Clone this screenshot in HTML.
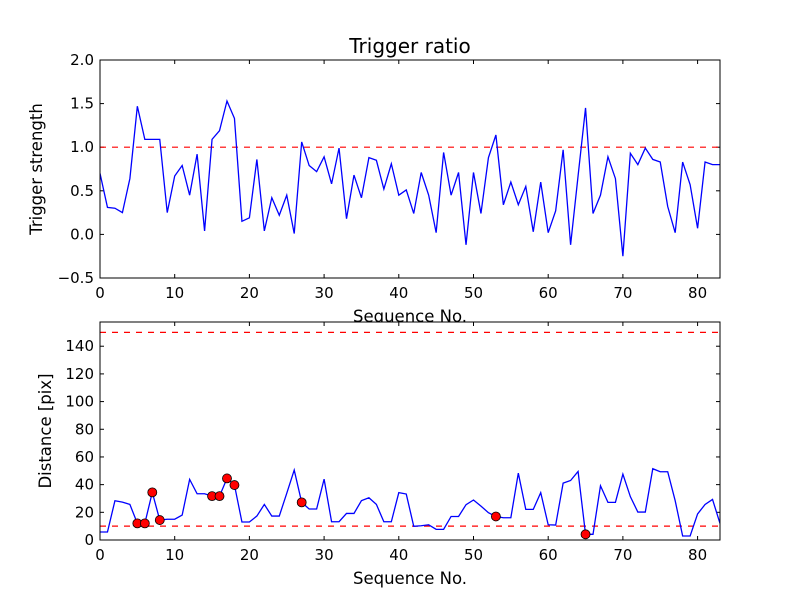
<!DOCTYPE html>
<html><head><meta charset="utf-8"><style>
body{margin:0;background:#fff}
svg{display:block;font-family:"DejaVu Sans","Liberation Sans",sans-serif}
</style></head><body>
<svg id="c" width="800" height="600"></svg>
<script>
const seqIndex=[...Array(84).keys()];
const triggerStrength=[0.70,0.31,0.30,0.25,0.64,1.47,1.09,1.09,1.09,0.25,0.67,0.79,0.45,0.92,0.04,1.09,1.19,1.53,1.33,0.15,0.19,0.86,0.04,0.42,0.22,0.45,0.01,1.06,0.79,0.72,0.89,0.58,0.99,0.18,0.68,0.42,0.88,0.85,0.52,0.81,0.45,0.51,0.24,0.71,0.45,0.02,0.94,0.45,0.71,-0.12,0.71,0.24,0.88,1.14,0.34,0.60,0.34,0.55,0.03,0.60,0.02,0.27,0.97,-0.12,0.67,1.45,0.24,0.45,0.89,0.64,-0.25,0.93,0.80,0.99,0.86,0.83,0.32,0.02,0.83,0.57,0.07,0.83,0.80,0.80];
const distance=[5.8,5.8,28.4,27.4,25.7,12,12,34.4,14.4,15,15,18,43.8,33.4,33.4,31.7,31.7,44.5,39.7,13,13,17.3,25.7,17.3,17.3,33.7,50.5,27.2,22.4,22.4,44,13.2,13.2,19.2,19.2,28.4,30.5,25.7,13.2,13.2,34.2,33.2,9.9,10.3,11,7.7,7.7,17,17,25.5,28.9,24.5,19.7,17,16.1,16.1,48.3,22.1,22.1,34.2,11,10.8,41.1,43,49.5,4.1,4.1,39.2,27.2,27.2,47.6,31.3,20.2,20.2,51.5,49.3,49.3,28.4,2.9,2.9,18.8,25.7,29.3,12];
const xTicks=[0,10,20,30,40,50,60,70,80];
const topYTicks=[-0.5,0.0,0.5,1.0,1.5,2.0];
const botYTicks=[0,20,40,60,80,100,120,140];
const triggerThreshold=[1.0];
const distThresholds=[10,150];

const svg=document.getElementById('c');
const NS='http://www.w3.org/2000/svg';
function mk(t,a,p){const e=document.createElementNS(NS,t);for(const k in a)e.setAttribute(k,a[k]);(p||svg).appendChild(e);return e;}
const L=100,R=720;
const sx=v=>L+(v-0)/(83-0)*(R-L);

function panel(name,top,bot,ymin,ymax,yt,fmt,ylabel,xlab){
  const g=mk('g',{});
  
  
  const sy=v=>bot-(v-ymin)/(ymax-ymin)*(bot-top);
  mk('rect',{x:L,y:top,width:R-L,height:bot-top,fill:'#fff'},g);
  xTicks.forEach(t=>{
    const x=sx(t);
    mk('line',{x1:x,x2:x,y1:bot,y2:bot-4,stroke:'#000'},g);
    mk('line',{x1:x,x2:x,y1:top,y2:top+4,stroke:'#000'},g);
    const tx=mk('text',{x:x,y:bot+20,'text-anchor':'middle','font-size':15},g);
    tx.textContent=t;
    
    
  });
  yt.forEach(t=>{
    const y=sy(t);
    mk('line',{x1:L,x2:L+4,y1:y,y2:y,stroke:'#000'},g);
    mk('line',{x1:R,x2:R-4,y1:y,y2:y,stroke:'#000'},g);
    const tx=mk('text',{x:L-6,y:y+5,'text-anchor':'end','font-size':15},g);
    tx.textContent=fmt(t);
    
    
  });
  const xl=mk('text',{x:(L+R)/2,y:bot+44,'text-anchor':'middle','font-size':16.5},g);
  xl.textContent=xlab;
  
  
  const yl=mk('text',{transform:`translate(${name==='top-panel'?42:51},${(top+bot)/2}) rotate(-90)`,'text-anchor':'middle','font-size':16.5},g);
  yl.textContent=ylabel;
  
  
  return {g,sy};
}

const P1=panel('top-panel',60,278,-0.5,2.0,topYTicks,t=>t.toFixed(1).replace('-','\u2212'),'Trigger strength','Sequence No.');
const cp1=mk('clipPath',{id:'cp1'});mk('rect',{x:L,y:60,width:R-L,height:218},cp1);
triggerThreshold.forEach(v=>{const l=mk('line',{x1:L,x2:R,y1:P1.sy(v),y2:P1.sy(v),stroke:'#f00','stroke-width':1.2,'stroke-dasharray':'6,6'},P1.g);
});
const l1=mk('polyline',{points:triggerStrength.map((v,i)=>sx(seqIndex[i])+','+P1.sy(v)).join(' '),fill:'none',stroke:'#00f','stroke-width':1.3,'clip-path':'url(#cp1)'},P1.g);

mk('rect',{x:L,y:60,width:R-L,height:218,fill:'none',stroke:'#000'},P1.g);
const title=mk('text',{x:410,y:53,'text-anchor':'middle','font-size':20});
title.textContent='Trigger ratio';


const P2=panel('bottom-panel',322,540,0,157.5,botYTicks,t=>String(t),'Distance [pix]','Sequence No.');
const cp2=mk('clipPath',{id:'cp2'});mk('rect',{x:L,y:322,width:R-L,height:218},cp2);
distThresholds.forEach(v=>{const l=mk('line',{x1:L,x2:R,y1:P2.sy(v),y2:P2.sy(v),stroke:'#f00','stroke-width':1.2,'stroke-dasharray':'6,6'},P2.g);
});
const l2=mk('polyline',{points:distance.map((v,i)=>sx(seqIndex[i])+','+P2.sy(v)).join(' '),fill:'none',stroke:'#00f','stroke-width':1.3,'clip-path':'url(#cp2)'},P2.g);

distance.forEach((v,i)=>{
  if(triggerStrength[i]>triggerThreshold[0]){
    const c=mk('circle',{cx:sx(seqIndex[i]),cy:P2.sy(v),r:4.5,fill:'#f00',stroke:'#000','stroke-width':0.8},P2.g);
    
    
  }
});
mk('rect',{x:L,y:322,width:R-L,height:218,fill:'none',stroke:'#000'},P2.g);
</script>
</body></html>
